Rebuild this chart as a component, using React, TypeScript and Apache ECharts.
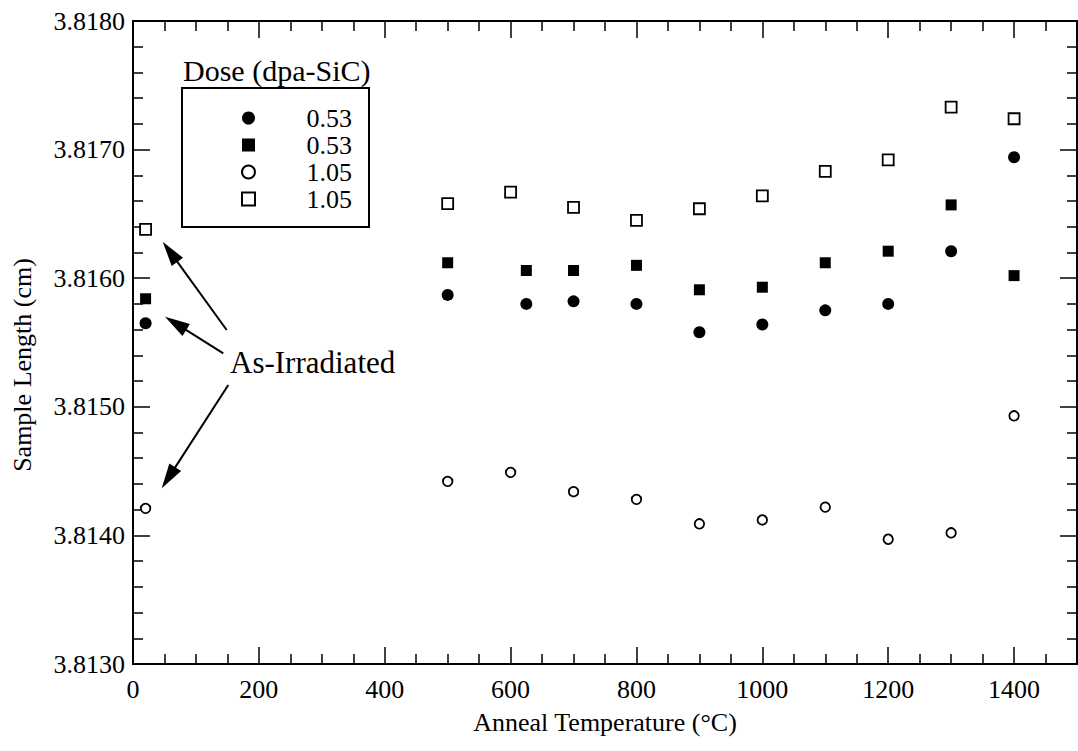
import React, { useEffect, useRef } from "react";
import * as echarts from "echarts";

// As-irradiated points are plotted at ~20 °C
const tempsClosed = [20, 500, 625, 700, 800, 900, 1000, 1100, 1200, 1300, 1400];
const tempsOpen = [20, 500, 600, 700, 800, 900, 1000, 1100, 1200, 1300, 1400];

const closedCircle053 = [3.81565, 3.81587, 3.8158, 3.81582, 3.8158, 3.81558, 3.81564, 3.81575, 3.8158, 3.81621, 3.81694];
const closedSquare053 = [3.81584, 3.81612, 3.81606, 3.81606, 3.8161, 3.81591, 3.81593, 3.81612, 3.81621, 3.81657, 3.81602];
const openCircle105 = [3.81421, 3.81442, 3.81449, 3.81434, 3.81428, 3.81409, 3.81412, 3.81422, 3.81397, 3.81402, 3.81493];
const openSquare105 = [3.81638, 3.81658, 3.81667, 3.81655, 3.81645, 3.81654, 3.81664, 3.81683, 3.81692, 3.81733, 3.81724];

const legendLabels = ["0.53", "0.53", "1.05", "1.05"];
const xTitle = "Anneal Temperature (°C)";
const yTitle = "Sample Length (cm)";
const legendTitle = "Dose (dpa-SiC)";
const annotation = "As-Irradiated";

const FONT = "'Liberation Serif', 'Times New Roman', serif";

const zip = (xs: number[], ys: number[]) => xs.map((x, i) => [x, ys[i]]);

function arrow(sx: number, sy: number, tx: number, ty: number) {
  const dx = tx - sx, dy = ty - sy;
  const L = Math.hypot(dx, dy);
  const ux = dx / L, uy = dy / L;
  const nx = -uy, ny = ux;
  const hl = 25, hw = 7;
  const bx = tx - ux * hl, by = ty - uy * hl;
  return [
    { type: "line", shape: { x1: sx, y1: sy, x2: bx + ux * 4, y2: by + uy * 4 }, style: { stroke: "#000", lineWidth: 2 } },
    { type: "polygon", shape: { points: [[tx, ty], [bx + nx * hw, by + ny * hw], [bx - nx * hw, by - ny * hw]] }, style: { fill: "#000" } },
  ];
}

export default function App() {
  const ref = useRef<HTMLDivElement>(null);
  useEffect(() => {
    if (!ref.current) return;
    const chart = echarts.init(ref.current, null, { renderer: "svg" });
    const axisCommon = {
      axisLine: { show: true, onZero: false, lineStyle: { color: "#000", width: 2 } },
      axisTick: { show: true, inside: true, length: 17, lineStyle: { color: "#000", width: 1.5 } },
      minorTick: { show: true, length: 10, lineStyle: { color: "#000", width: 1.5 } },
      splitLine: { show: false },
      minorSplitLine: { show: false },
    };
    const xBase = { type: "value", min: 0, max: 1500, interval: 200, ...axisCommon, minorTick: { ...axisCommon.minorTick, splitNumber: 4 } };
    const yBase = { type: "value", min: 3.813, max: 3.818, interval: 0.001, ...axisCommon, minorTick: { ...axisCommon.minorTick, splitNumber: 5 } };
    const names = ["0.53 filledcircle", "0.53 filledsquare", "1.05 opencircle", "1.05 opensquare"];
    chart.setOption({
      animation: false,
      backgroundColor: "#fff",
      grid: { left: 133, right: 1, top: 21, bottom: 87 },
      xAxis: [
        {
          ...xBase,
          position: "bottom",
          axisLabel: { show: true, fontFamily: FONT, fontSize: 26, color: "#000", margin: 12, showMaxLabel: false, formatter: (v: number) => String(v) },
        },
        { ...xBase, position: "top", axisLabel: { show: false } },
      ],
      yAxis: [
        {
          ...yBase,
          position: "left",
          axisLabel: { show: true, fontFamily: FONT, fontSize: 26, color: "#000", margin: 8, formatter: (v: number) => v.toFixed(4) },
        },
        { ...yBase, position: "right", axisLabel: { show: false } },
      ],
      legend: {
        orient: "vertical",
        left: 182,
        top: 88,
        padding: [17, 17, 15, 59],
        itemGap: 1,
        itemWidth: 13,
        itemHeight: 13,
        borderColor: "#000",
        borderWidth: 2,
        borderRadius: 0,
        data: names,
        formatter: (n: string) => `{v|${legendLabels[names.indexOf(n)]}}`,
        textStyle: {
          fontFamily: FONT,
          fontSize: 26,
          color: "#000",
          rich: { v: { fontFamily: FONT, fontSize: 26, color: "#000", width: 92, align: "right", lineHeight: 26 } },
        },
      },
      graphic: [
        { type: "text", style: { text: legendTitle, x: 183, y: 70, font: `30px ${FONT}`, fill: "#000", textVerticalAlign: "middle" } },
        { type: "text", style: { text: annotation, x: 230, y: 362, font: `31px ${FONT}`, fill: "#000", textVerticalAlign: "middle" } },
        { type: "text", style: { text: xTitle, x: 605, y: 722, font: `26px ${FONT}`, fill: "#000", textAlign: "center", textVerticalAlign: "middle" } },
        { type: "text", x: 22, y: 365, rotation: Math.PI / 2, style: { text: yTitle, x: 0, y: 0, font: `26px ${FONT}`, fill: "#000", textAlign: "center", textVerticalAlign: "middle" } },
        ...arrow(226.7, 330, 162.7, 241.7),
        ...arrow(223.3, 353.3, 165, 316.7),
        ...arrow(228.3, 385, 161.7, 488.3),
      ],
      series: [
        { name: names[0], type: "scatter", symbol: "circle", symbolSize: 12, itemStyle: { color: "#000", opacity: 1 }, data: zip(tempsClosed, closedCircle053) },
        { name: names[1], type: "scatter", symbol: "rect", symbolSize: 11, itemStyle: { color: "#000", opacity: 1 }, data: zip(tempsClosed, closedSquare053) },
        { name: names[2], type: "scatter", symbol: "circle", symbolSize: 9.5, itemStyle: { color: "#fff", borderColor: "#000", borderWidth: 1.8, opacity: 1 }, data: zip(tempsOpen, openCircle105) },
        { name: names[3], type: "scatter", symbol: "rect", symbolSize: 11, itemStyle: { color: "#fff", borderColor: "#000", borderWidth: 1.8, opacity: 1 }, data: zip(tempsOpen, openSquare105) },
      ],
    });
    return () => chart.dispose();
  }, []);
  return <div ref={ref} style={{ position: "fixed", left: 0, top: 0, width: 1078, height: 751 }} />;
}
